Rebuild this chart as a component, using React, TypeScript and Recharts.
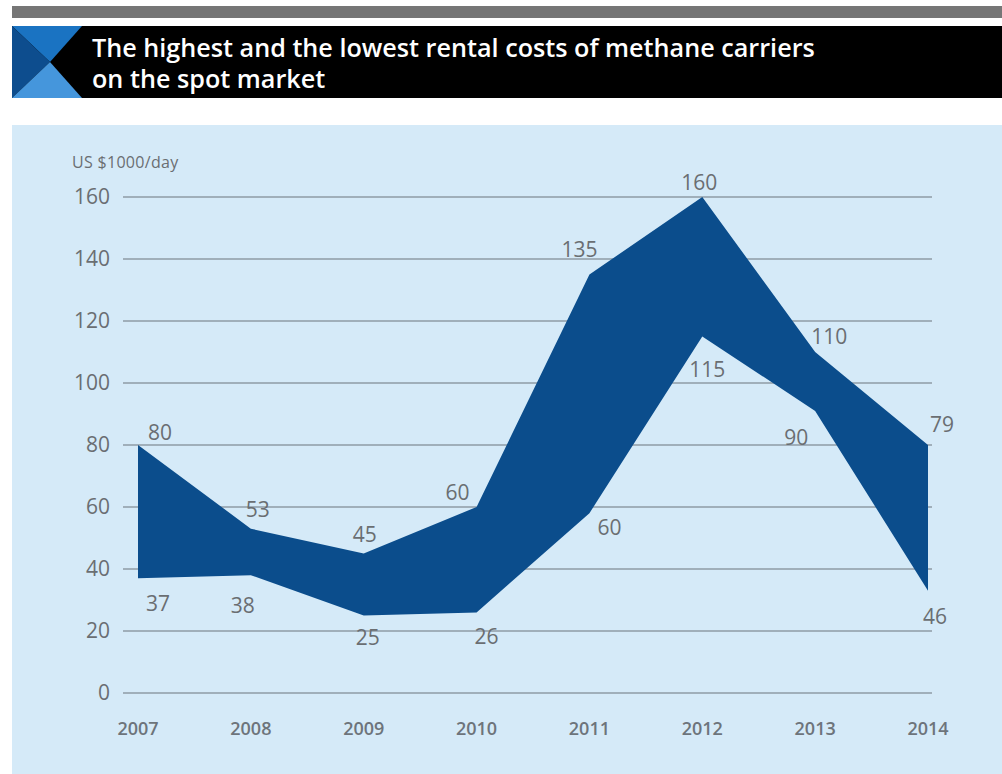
import React from 'react';
import { AreaChart, Area, Line, XAxis, YAxis, CartesianGrid, LabelList } from 'recharts';

const years = ['2007', '2008', '2009', '2010', '2011', '2012', '2013', '2014'];
const highs = [80, 53, 45, 60, 135, 160, 110, 80];
const lows = [37, 38, 25, 26, 58, 115, 91, 33];
const highLabels = ['80', '53', '45', '60', '135', '160', '110', '79'];
const lowLabels = ['37', '38', '25', '26', '60', '115', '90', '46'];
const yTicks = [0, 20, 40, 60, 80, 100, 120, 140, 160];

const data = years.map((y, i) => ({ year: y, range: [lows[i], highs[i]], high: highs[i], low: lows[i] }));

// label placement offsets (layout only)
const highOffsets: [number, number][] = [[22, -13], [7, -20], [1, -20], [-19, -15], [-10, -26], [-3, -15], [14, -16], [14, -21]];
const lowOffsets: [number, number][] = [[20, 25], [-8, 30], [4, 21], [10, 24], [20, 14], [5, 32], [-19, 26], [7, 25]];

const FONT = '"Open Sans", "Noto Sans", sans-serif';
const BAND = '#0b4d8c';

const makeLabel = (texts: string[], offsets: [number, number][]) => (props: any) => {
  const { x, y, index } = props;
  const [dx, dy] = offsets[index];
  return (
    <text x={x + dx} y={y + dy} textAnchor="middle" dominantBaseline="central" fontFamily={FONT} fontSize={21} fill="#6a6e72">
      {texts[index]}
    </text>
  );
};

export default function App() {
  return (
    <div style={{ position: 'absolute', left: 0, top: 0, width: 1002, height: 774, background: '#ffffff', overflow: 'hidden', fontFamily: FONT }}>
      <svg width={1002} height={125} style={{ position: 'absolute', left: 0, top: 0 }}>
        <rect x={12} y={6} width={990} height={12} fill="#767676" />
        <rect x={12} y={26} width={990} height={72} fill="#000000" />
        <polygon points="12,26 82,26 50,62" fill="#1a73c2" />
        <polygon points="12,26 50,62 12,98" fill="#0d4d8e" />
        <polygon points="12,98 50,62 82,98" fill="#4596dc" />
        <text x={92} y={57} fill="#ffffff" fontFamily={FONT} fontSize={25.2} fontWeight={600}>The highest and the lowest rental costs of methane carriers</text>
        <text x={92} y={88} fill="#ffffff" fontFamily={FONT} fontSize={25.2} fontWeight={600}>on the spot market</text>
      </svg>
      <div style={{ position: 'absolute', left: 12, top: 125, width: 990, height: 649, background: '#d5eaf8' }} />
      <div style={{ position: 'absolute', left: 72, top: 151, fontSize: 16, color: '#6a6e72', fontFamily: FONT, letterSpacing: 0.3 }}>US $1000/day</div>
      <div style={{ position: 'absolute', left: 0, top: 0 }}>
        <AreaChart width={1002} height={774} data={data} margin={{ top: 197, right: 70, bottom: 41, left: 0 }}>
          <CartesianGrid vertical={false} stroke="#8e9ba6" strokeWidth={1.5} />
          <XAxis
            dataKey="year"
            height={40}
            padding={{ left: 15, right: 4 }}
            axisLine={false}
            tickLine={false}
            tickSize={0}
            tickMargin={29}
            tick={{ fontSize: 18, fill: '#6d747b', fontFamily: FONT, fontWeight: 600 }}
          />
          <YAxis
            width={123}
            domain={[0, 160]}
            ticks={yTicks}
            axisLine={false}
            tickLine={false}
            tickSize={0}
            tickMargin={13}
            tick={{ fontSize: 21, fill: '#6a6e72', fontFamily: FONT }}
          />
          <Area dataKey="range" type="linear" stroke="none" fill={BAND} fillOpacity={1} isAnimationActive={false} />
          <Line dataKey="high" stroke="none" dot={false} activeDot={false} isAnimationActive={false}>
            <LabelList dataKey="high" content={makeLabel(highLabels, highOffsets)} />
          </Line>
          <Line dataKey="low" stroke="none" dot={false} activeDot={false} isAnimationActive={false}>
            <LabelList dataKey="low" content={makeLabel(lowLabels, lowOffsets)} />
          </Line>
        </AreaChart>
      </div>
    </div>
  );
}
